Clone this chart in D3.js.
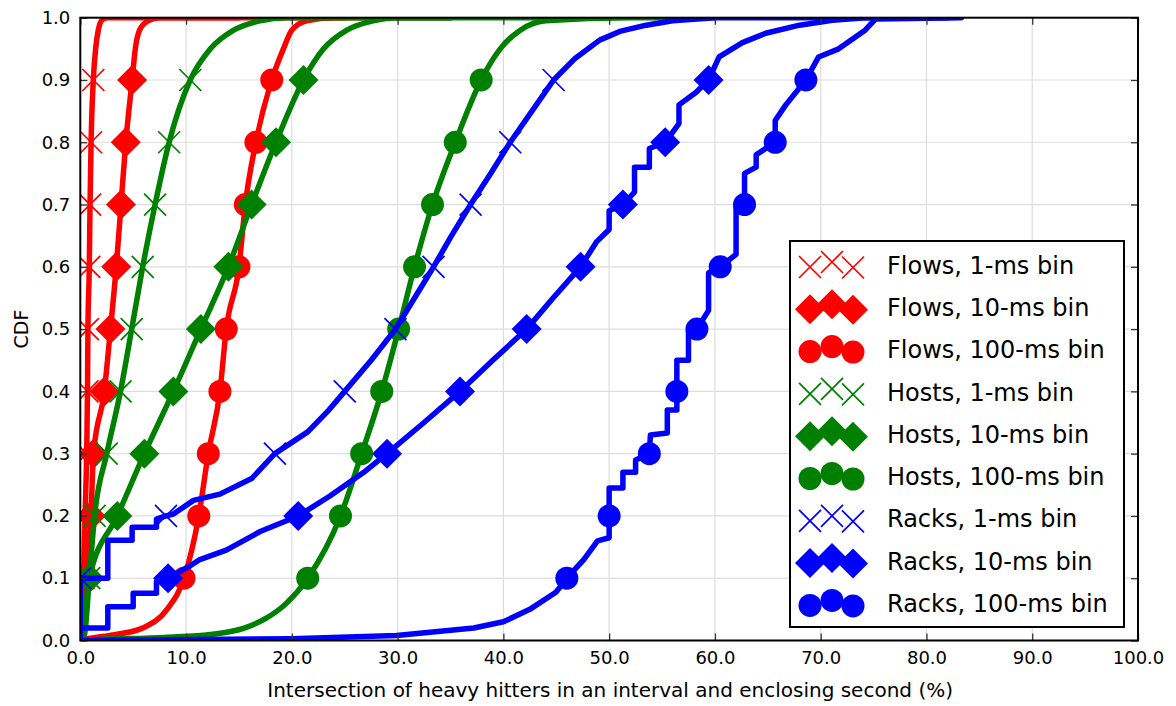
<!DOCTYPE html>
<html><head><meta charset="utf-8">
<script src="https://cdn.jsdelivr.net/npm/d3@7"></script>
<style>
html,body{margin:0;padding:0;background:#fff;}
svg{display:block;font-family:"DejaVu Sans",sans-serif;}
</style></head>
<body><svg id="chart" width="1176" height="706"></svg>
<script>
// ---------- data (x = % intersection, y = CDF) ----------
const cdfLevels = [0.1,0.2,0.3,0.4,0.5,0.6,0.7,0.8,0.9];
const xTicks = [0,10,20,30,40,50,60,70,80,90,100];
const yTicks = [0,0.1,0.2,0.3,0.4,0.5,0.6,0.7,0.8,0.9,1.0];
const seriesLabels = ["Flows, 1-ms bin","Flows, 10-ms bin","Flows, 100-ms bin",
  "Hosts, 1-ms bin","Hosts, 10-ms bin","Hosts, 100-ms bin",
  "Racks, 1-ms bin","Racks, 10-ms bin","Racks, 100-ms bin"];
const seriesColors = ["#ff0000","#ff0000","#ff0000","#008000","#008000","#008000","#0000ff","#0000ff","#0000ff"];
const seriesMarkers = ["x","D","o","x","D","o","x","D","o"];
const seriesSmooth = [true,true,true,true,true,true,false,false,false];

const flows1 = [[0,0],[0.1,0.01],[0.3,0.1],[0.45,0.2],[0.6,0.3],[0.68,0.4],[0.72,0.5],[0.85,0.6],[0.92,0.7],[1.02,0.8],[1.23,0.9],[1.45,0.95],[1.7,0.98],[2.1,0.997],[2.6,1.0],[15,1.0]];
const flows1Marks = [0.3,0.45,0.6,0.68,0.72,0.85,0.92,1.02,1.23];

const flows10 = [[0,0],[0.1,0.01],[0.3,0.05],[0.45,0.1],[1.0,0.2],[1.25,0.3],[2.27,0.4],[2.85,0.5],[3.4,0.6],[3.85,0.7],[4.3,0.8],[4.9,0.9],[5.2,0.95],[5.6,0.98],[6.4,0.995],[7.5,1.0],[25,1.0]];
const flows10Marks = [0.45,1.0,1.25,2.27,2.85,3.4,3.85,4.3,4.9];

const flows100 = [[0,0],[0.5,0.002],[3.5,0.01],[5.9,0.02],[8.2,0.05],[9.8,0.1],[11.2,0.2],[12.1,0.3],[13.2,0.4],[13.8,0.5],[15.0,0.6],[15.6,0.7],[16.6,0.8],[18.1,0.9],[19.2,0.95],[20.0,0.98],[21.4,0.995],[24,1.0],[35,1.0]];
const flows100Marks = [9.8,11.2,12.1,13.2,13.8,15.0,15.6,16.6,18.1];

const hosts1 = [[0,0],[0.4,0.01],[0.85,0.1],[1.35,0.2],[2.5,0.3],[3.8,0.4],[4.86,0.5],[5.9,0.6],[7.07,0.7],[8.4,0.8],[10.4,0.9],[12.3,0.95],[14.5,0.98],[17,0.995],[19.5,1.0],[35,1.0]];
const hosts1Marks = [0.85,1.35,2.5,3.8,4.86,5.9,7.07,8.4,10.4];

const hosts10 = [[0,0],[0.3,0.02],[0.85,0.1],[3.5,0.2],[6.06,0.3],[8.8,0.4],[11.4,0.5],[14.0,0.6],[16.2,0.7],[18.5,0.8],[21.1,0.9],[23,0.95],[25.2,0.98],[27.7,0.995],[30,1.0],[45,1.0]];
const hosts10Marks = [0.85,3.5,6.06,8.8,11.4,14.0,16.2,18.5,21.1];

const hosts100 = [[0,0],[1,0.001],[8,0.005],[12.5,0.01],[15.5,0.02],[17.5,0.035],[19.5,0.06],[21.5,0.1],[24.6,0.2],[26.6,0.3],[28.5,0.4],[30.1,0.5],[31.6,0.6],[33.3,0.7],[35.45,0.8],[37.9,0.9],[39.7,0.95],[41.6,0.98],[44,0.995],[52,1.0],[60,1.0]];
const hosts100Marks = [21.5,24.6,26.6,28.5,30.1,31.6,33.3,35.45,37.9];

const racks1 = [[0,0],[0,0.1],[2.6,0.1],[2.6,0.161],[4.9,0.161],[4.9,0.182],[7.2,0.182],[7.2,0.195],[8.1,0.2],[8.8,0.203],[10.7,0.225],[13.2,0.235],[16.2,0.26],[18.4,0.3],[21.5,0.335],[23.5,0.37],[25.0,0.4],[27.5,0.45],[29.8,0.5],[31.6,0.55],[33.4,0.6],[35.1,0.65],[36.9,0.7],[38.8,0.75],[40.65,0.8],[42.7,0.85],[44.75,0.9],[46.8,0.935],[49.1,0.964],[51,0.978],[53.5,0.988],[56,0.995],[60,1.0],[80,1.0]];
const racks1Marks = [0.0,8.1,18.4,25.0,29.8,33.4,36.9,40.65,44.75];

const racks10 = [[0,0],[0,0.02],[2.6,0.02],[2.6,0.054],[5.0,0.054],[5.0,0.076],[7.2,0.076],[7.2,0.095],[8.3,0.1],[10.4,0.12],[11.3,0.13],[13.8,0.145],[17,0.175],[20.6,0.2],[23.6,0.232],[26.8,0.27],[29.0,0.3],[32.5,0.35],[35.9,0.4],[39,0.45],[42.2,0.5],[44.7,0.55],[47.3,0.6],[48.8,0.64],[50,0.66],[50,0.69],[51.3,0.7],[52.4,0.72],[52.4,0.76],[53.8,0.76],[53.8,0.79],[55.3,0.8],[56.6,0.83],[56.6,0.86],[58.2,0.88],[59.4,0.9],[60.4,0.937],[62.6,0.96],[64.8,0.975],[68,0.988],[71.1,0.996],[74.2,1.0],[82,1.0]];
const racks10Marks = [8.3,20.6,29.0,35.9,42.2,47.3,51.3,55.3,59.4];

const racks100 = [[0,0],[20,0.003],[29.9,0.008],[37.2,0.02],[40,0.03],[42.5,0.05],[45,0.078],[46.0,0.1],[47.6,0.13],[48.9,0.16],[50.0,0.165],[50.0,0.245],[51.3,0.245],[51.3,0.27],[52.5,0.27],[52.5,0.29],[53.8,0.3],[53.9,0.33],[55.5,0.333],[55.5,0.37],[56.4,0.37],[56.4,0.45],[57.5,0.45],[57.5,0.497],[58.3,0.5],[59.4,0.53],[59.4,0.59],[60.5,0.6],[62.0,0.62],[62.0,0.70],[62.8,0.7],[62.8,0.75],[63.9,0.76],[63.9,0.78],[65.7,0.8],[65.7,0.835],[66.7,0.86],[68.6,0.9],[69.8,0.937],[71.7,0.95],[74.2,0.98],[75.2,0.998],[83.3,1.0]];
const racks100Marks = [46.0,50.0,53.8,56.4,58.3,60.5,62.8,65.7,68.6];

const seriesLines = [flows1,flows10,flows100,hosts1,hosts10,hosts100,racks1,racks10,racks100];
const seriesMarks = [flows1Marks,flows10Marks,flows100Marks,hosts1Marks,hosts10Marks,hosts100Marks,racks1Marks,racks10Marks,racks100Marks];

// ---------- layout ----------
const L = 80.3, R = 1138, T = 17.7, B = 640.5;
const svg = d3.select("#chart");
const x = d3.scaleLinear().domain([0,100]).range([L,R]);
const y = d3.scaleLinear().domain([0,1]).range([B,T]);

svg.append("defs").append("clipPath").attr("id","clip")
  .append("rect").attr("x",L).attr("y",T).attr("width",R-L).attr("height",B-T);

// grid
const grid = svg.append("g");
grid.selectAll(".gx").data(xTicks.slice(1,-1)).join("line")
  .attr("x1",d=>x(d)).attr("x2",d=>x(d)).attr("y1",T).attr("y2",B)
  .attr("stroke","#dddddd").attr("stroke-width",1.2);
grid.selectAll(".gy").data(yTicks.slice(1,-1)).join("line")
  .attr("y1",d=>y(d)).attr("y2",d=>y(d)).attr("x1",L).attr("x2",R)
  .attr("stroke","#dddddd").attr("stroke-width",1.2);

// series
const plot = svg.append("g").attr("clip-path","url(#clip)");
const lineSmooth = d3.line().x(d=>x(d[0])).y(d=>y(d[1])).curve(d3.curveMonotoneX);
const lineStep = d3.line().x(d=>x(d[0])).y(d=>y(d[1]));
function markerPath(type){
  if(type==="x"){const s=11;return `M${-s},${-s}L${s},${s}M${-s},${s}L${s},${-s}`;}
  if(type==="D"){const h=15;return `M0,${-h}L${h},0L0,${h}L${-h},0Z`;}
  return null;
}
function drawMarker(g, type, color, cx, cy){
  if(type==="o"){
    g.append("circle").attr("cx",cx).attr("cy",cy).attr("r",11.5).attr("fill",color);
  } else if(type==="D"){
    g.append("path").attr("d",markerPath("D")).attr("transform",`translate(${cx},${cy})`).attr("fill",color);
  } else {
    g.append("path").attr("d",markerPath("x")).attr("transform",`translate(${cx},${cy})`)
      .attr("fill","none").attr("stroke",color).attr("stroke-width",1.7);
  }
}
seriesLines.forEach((pts,i)=>{
  const g = plot.append("g");
  g.append("path").datum(pts).attr("d",seriesSmooth[i]?lineSmooth:lineStep)
    .attr("fill","none").attr("stroke",seriesColors[i])
    .attr("stroke-width",5.5).attr("stroke-linejoin","round").attr("stroke-linecap","round");
  seriesMarks[i].forEach((mx,k)=>drawMarker(g, seriesMarkers[i], seriesColors[i], x(mx), y(cdfLevels[k])));
});

// axes (ticks inward on all four sides)
const fmt = d3.format(".1f");
const axB = svg.append("g").attr("transform",`translate(0,${B})`)
  .call(d3.axisBottom(x).tickValues(xTicks).tickFormat(fmt).tickSize(-7).tickPadding(10));
const axT = svg.append("g").attr("transform",`translate(0,${T})`)
  .call(d3.axisTop(x).tickValues(xTicks).tickFormat("").tickSize(-7));
const axL = svg.append("g").attr("transform",`translate(${L},0)`)
  .call(d3.axisLeft(y).tickValues(yTicks).tickFormat(fmt).tickSize(-7).tickPadding(10));
const axR = svg.append("g").attr("transform",`translate(${R},0)`)
  .call(d3.axisRight(y).tickValues(yTicks).tickFormat("").tickSize(-7));
[axB,axT,axL,axR].forEach(a=>{
  a.select(".domain").remove();
  a.selectAll(".tick line").attr("stroke","#333").attr("stroke-width",1.3);
  a.selectAll("text").attr("font-size",18).attr("fill","#000").attr("font-family","DejaVu Sans, sans-serif");
});
axB.selectAll("text").attr("dy","0.75em");

// frame
svg.append("rect").attr("x",L).attr("y",T).attr("width",R-L).attr("height",B-T)
  .attr("fill","none").attr("stroke","#000").attr("stroke-width",2);

// axis labels
svg.append("text").attr("x",(L+R)/2+1).attr("y",697).attr("text-anchor","middle")
  .attr("font-size",20).text("Intersection of heavy hitters in an interval and enclosing second (%)");
svg.append("text").attr("transform",`translate(28,${(T+B)/2}) rotate(-90)`).attr("text-anchor","middle")
  .attr("font-size",19).text("CDF");

// legend
const lg = svg.append("g");
lg.append("rect").attr("x",790).attr("y",241).attr("width",334).attr("height",386)
  .attr("fill","#fff").attr("stroke","#000").attr("stroke-width",2);
const legX = [810,832,853];
const legDy = [2,-3,2.5];
seriesLabels.forEach((lab,i)=>{
  const cy = 265 + i*42.3;
  legX.forEach((lx,k)=>drawMarker(lg, seriesMarkers[i], seriesColors[i], lx, cy+legDy[k]));
  lg.append("text").attr("x",887).attr("y",cy).attr("dy","0.36em")
    .attr("font-size",24).attr("fill","#000").text(lab);
});
</script></body></html>
